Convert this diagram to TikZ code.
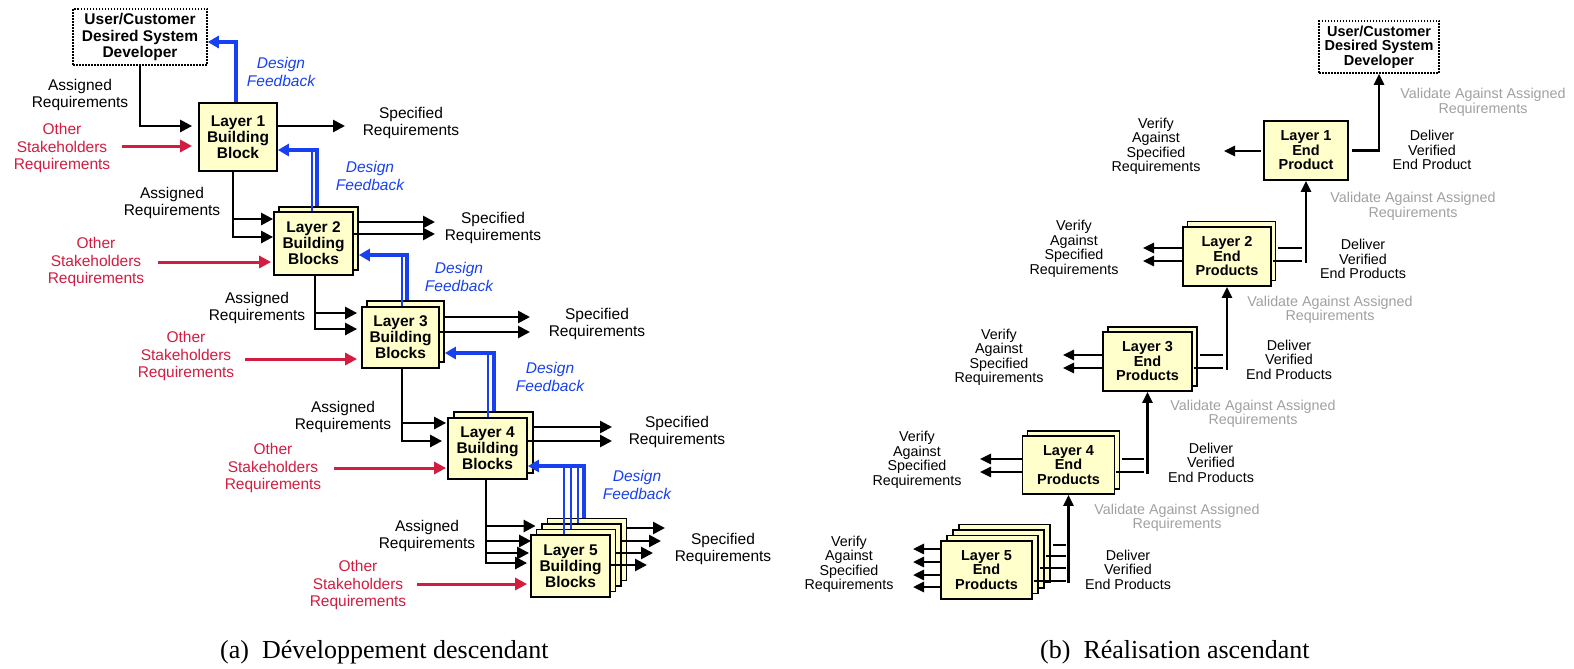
\documentclass[tikz,border=0pt]{standalone}
\usepackage{fontspec}
\setmainfont{Liberation Serif}
\setsansfont{Liberation Sans}
\usetikzlibrary{arrows.meta,calc}
\definecolor{boxfill}{HTML}{FFFFCC}
\definecolor{redc}{HTML}{D21C40}
\definecolor{bluec}{HTML}{1840F0}
\definecolor{grayc}{HTML}{A0A0A0}
\tikzset{
  box/.style={draw, line width=1.8pt, fill=boxfill, inner sep=0pt, align=center},
  lbox/.style={box, font=\sffamily\bfseries\fontsize{15.5}{16}\selectfont},
  rbox/.style={box, font=\sffamily\bfseries\fontsize{14.5}{14.5}\selectfont},
  userbox/.style={draw, line width=1.5pt, dash pattern=on 1.5pt off 1.5pt, fill=white, inner sep=0pt, align=center},
  txt/.style={font=\sffamily\fontsize{15.5}{17.5}\selectfont, align=center, inner sep=0pt},
  rtxt/.style={font=\sffamily\fontsize{14.3}{14.5}\selectfont, align=center, inner sep=0pt},
  redtxt/.style={txt, text=redc},
  fbtxt/.style={font=\sffamily\itshape\fontsize{15.5}{18.5}\selectfont, text=bluec, align=center, inner sep=0pt},
  gtxt/.style={rtxt, text=grayc},
  captxt/.style={font=\rmfamily\fontsize{26}{30}\selectfont, inner sep=0pt},
  arr/.style={line width=2.6pt, -{Triangle[length=12pt,width=12pt]}},
  rarr/.style={line width=2.5pt, -{Triangle[length=11pt,width=10pt]}},
  bline/.style={line width=2.5pt},
  redarr/.style={line width=3pt, draw=redc, -{Triangle[length=12pt,width=12pt]}},
  fb/.style={line width=3.3pt, draw=bluec, -{Triangle[length=11pt,width=12pt]}},
  fbl/.style={line width=2.8pt, draw=bluec}
}
\begin{document}
\begin{tikzpicture}[x=1pt,y=-1pt]
\useasboundingbox (0,0) rectangle (1574,669);

% ================= LEFT: top-down development =================
\node[userbox, minimum width=134pt, minimum height=56pt, font=\sffamily\bfseries\fontsize{15.5}{16.5}\selectfont] (UL) at (140,37) {User/Customer\\Desired System\\Developer};

\node[lbox, minimum width=78pt, minimum height=68pt] (L1) at (238,137) {Layer 1\\Building\\Block};

\node[lbox, minimum width=79pt, minimum height=63pt] (L2b) at (318.5,238.5) {};
\node[lbox, minimum width=79pt, minimum height=63pt] (L2) at (313.5,243.5) {Layer 2\\Building\\Blocks};

\node[lbox, minimum width=77pt, minimum height=61pt] (L3b) at (405.5,331.5) {};
\node[lbox, minimum width=77pt, minimum height=61pt] (L3) at (400.5,337.5) {Layer 3\\Building\\Blocks};

\node[lbox, minimum width=79pt, minimum height=61pt] (L4b) at (493.5,442.5) {};
\node[lbox, minimum width=79pt, minimum height=61pt] (L4) at (487.5,448.5) {Layer 4\\Building\\Blocks};

\node[lbox, minimum width=79pt, minimum height=62pt] (L5b3) at (587,549.5) {};
\node[lbox, minimum width=79pt, minimum height=62pt] (L5b2) at (581.5,555) {};
\node[lbox, minimum width=79pt, minimum height=62pt] (L5b1) at (576,560.5) {};
\node[lbox, minimum width=79pt, minimum height=62pt] (L5) at (570.5,566) {Layer 5\\Building\\Blocks};

% Layer 1 connectors
\draw[arr, shorten >=6pt] (UL.south) |- (L1.west |- 0,126);
\coordinate (r1) at (122,146);
\draw[redarr, shorten >=6pt] (r1) -- (r1 -| L1.west);
\coordinate (s1) at (345,126);
\draw[arr] (s1 -| L1.east) -- (s1);
\coordinate (f1) at (236,42);
\draw[fb] (f1 |- L1.north) -- (f1) -- (f1 -| UL.east);
\node[txt] (tA1) at (80,95) {Assigned\\Requirements};
\node[redtxt] (tO1) at (62,148) {Other\\Stakeholders\\Requirements};
\node[txt] (tS1) at (411,123) {Specified\\Requirements};
\node[fbtxt] (tF1) at (281,72) {Design\\Feedback};

% Layer 2 connectors
\coordinate (a2) at (233,219);
\draw[arr] (a2 |- L1.south) |- (L2.west |- 0,237);
\draw[arr] (a2) -- (a2 -| L2.west);
\coordinate (r2) at (158,262);
\draw[redarr, shorten >=2pt] (r2) -- (r2 -| L2.west);
\coordinate (s2a) at (435,222);
\coordinate (s2b) at (435,234);
\draw[arr] (s2a -| L2b.east) -- (s2a);
\draw[arr] (s2b -| L2.east) -- (s2b);
\coordinate (f2a) at (312,150);
\coordinate (f2b) at (317,150);
\draw[fbl] (f2a |- L2.north) -- (f2a);
\draw[fb] (f2b |- L2b.north) -- (f2b) -- (f2b -| L1.east);
\node[txt] (tA2) at (172,203) {Assigned\\Requirements};
\node[redtxt] (tO2) at (96,262) {Other\\Stakeholders\\Requirements};
\node[txt] (tS2) at (493,228) {Specified\\Requirements};
\node[fbtxt] (tF2) at (370,176) {Design\\Feedback};

% Layer 3 connectors
\coordinate (a3) at (315,313);
\draw[arr, shorten >=4pt] (a3 |- L2.south) |- (L3.west |- 0,329);
\draw[arr, shorten >=4pt] (a3) -- (a3 -| L3.west);
\coordinate (r3) at (245,359);
\draw[redarr, shorten >=4pt] (r3) -- (r3 -| L3.west);
\coordinate (s3a) at (530,317);
\coordinate (s3b) at (530,332);
\draw[arr] (s3a -| L3b.east) -- (s3a);
\draw[arr] (s3b -| L3.east) -- (s3b);
\coordinate (f3a) at (402,255);
\coordinate (f3b) at (407,255);
\draw[fbl] (f3a |- L3.north) -- (f3a);
\draw[fb] (f3b |- L3b.north) -- (f3b) -- (f3b -| L2b.east);
\node[txt] (tA3) at (257,308) {Assigned\\Requirements};
\node[redtxt] (tO3) at (186,356) {Other\\Stakeholders\\Requirements};
\node[txt] (tS3) at (597,324) {Specified\\Requirements};
\node[fbtxt] (tF3) at (459,277) {Design\\Feedback};

% Layer 4 connectors
\coordinate (a4) at (402,423);
\draw[arr, shorten >=5pt] (a4 |- L3.south) |- (L4.west |- 0,441);
\draw[arr, shorten >=1pt] (a4) -- (a4 -| L4.west);
\coordinate (r4) at (334,468);
\draw[redarr, shorten >=1pt] (r4) -- (r4 -| L4.west);
\coordinate (s4a) at (612,427);
\coordinate (s4b) at (612,441);
\draw[arr] (s4a -| L4b.east) -- (s4a);
\draw[arr] (s4b -| L4.east) -- (s4b);
\coordinate (f4a) at (488,353);
\coordinate (f4b) at (494,353);
\draw[fbl] (f4a |- L4.north) -- (f4a);
\draw[fb] (f4b |- L4b.north) -- (f4b) -- (f4b -| L3b.east);
\node[txt] (tA4) at (343,417) {Assigned\\Requirements};
\node[redtxt] (tO4) at (273,468) {Other\\Stakeholders\\Requirements};
\node[txt] (tS4) at (677,432) {Specified\\Requirements};
\node[fbtxt] (tF4) at (550,377) {Design\\Feedback};

% Layer 5 connectors
\coordinate (a5) at (486,526);
\draw[arr, shorten >=3pt] (a5 |- L4.south) |- (L5.west |- 0,563);
\draw[arr] (a5) -- (a5 -| L5b1.west);
\draw[arr, shorten >=-1pt] (a5 |- 0,541) -- (L5.west |- 0,541);
\draw[arr, shorten >=1pt] (a5 |- 0,553) -- (L5.west |- 0,553);
\coordinate (r5) at (417,584);
\draw[redarr, shorten >=3pt] (r5) -- (r5 -| L5.west);
\coordinate (s5a) at (665,528);
\coordinate (s5b) at (661,541);
\coordinate (s5c) at (653,553);
\coordinate (s5d) at (647,565);
\draw[arr] (s5a -| L5b3.east) -- (s5a);
\draw[arr] (s5b -| L5b2.east) -- (s5b);
\draw[arr] (s5c -| L5b1.east) -- (s5c);
\draw[arr] (s5d -| L5.east) -- (s5d);
\coordinate (f5a) at (564,466);
\coordinate (f5b) at (571,466);
\coordinate (f5c) at (578,466);
\coordinate (f5d) at (584,466);
\draw[fbl] (f5a |- L5.north) -- (f5a);
\draw[fbl] (f5b |- L5b1.north) -- (f5b);
\draw[fbl] (f5c |- L5b2.north) -- (f5c);
\draw[fb] (f5d |- L5b3.north) -- (f5d) -- (f5d -| L4.east);
\node[txt] (tA5) at (427,536) {Assigned\\Requirements};
\node[redtxt] (tO5) at (358,585) {Other\\Stakeholders\\Requirements};
\node[txt] (tS5) at (723,549) {Specified\\Requirements};
\node[fbtxt] (tF5) at (637,485) {Design\\Feedback};

% ================= RIGHT: bottom-up realization =================
\node[userbox, minimum width=120pt, minimum height=52pt, font=\sffamily\bfseries\fontsize{14.5}{14.5}\selectfont] (RU) at (1379,47) {User/Customer\\Desired System\\Developer};

\node[rbox, minimum width=84pt, minimum height=59pt] (R1) at (1306,150.5) {Layer 1\\End\\Product};

\node[rbox, minimum width=88pt, minimum height=59pt] (R2b) at (1231.5,251) {};
\node[rbox, minimum width=88pt, minimum height=59pt] (R2) at (1227,256.5) {Layer 2\\End\\Products};

\node[rbox, minimum width=89pt, minimum height=59pt] (R3b) at (1152.5,356.5) {};
\node[rbox, minimum width=89pt, minimum height=59pt] (R3) at (1147.5,361.5) {Layer 3\\End\\Products};

\node[rbox, minimum width=92pt, minimum height=58pt] (R4b) at (1073.5,460) {};
\node[rbox, minimum width=92pt, minimum height=58pt] (R4) at (1068.5,465) {Layer 4\\End\\Products};

\node[rbox, minimum width=91pt, minimum height=58pt] (R5b3) at (1004.5,553.5) {};
\node[rbox, minimum width=91pt, minimum height=58pt] (R5b2) at (998.5,559) {};
\node[rbox, minimum width=91pt, minimum height=58pt] (R5b1) at (992.5,564.5) {};
\node[rbox, minimum width=91pt, minimum height=58pt] (R5) at (986.5,570) {Layer 5\\End\\Products};

% Layer 1 (right)
\coordinate (v1) at (1224,151);
\draw[rarr, shorten <=2pt] (v1 -| R1.west) -- (v1);
\draw[rarr, shorten <=3pt] (R1.east) -| (RU.south);
\node[rtxt] (tV1) at (1156,146.5) {Verify\\Against\\Specified\\Requirements};
\node[rtxt] (tD1) at (1432,150) {Deliver\\Verified\\End Product};
\node[gtxt] (tG1) at (1483,102.5) {Validate Against Assigned\\Requirements};

% Layer 2 (right)
\coordinate (v2a) at (1143,248);
\coordinate (v2b) at (1143,261);
\draw[rarr] (v2a -| R2.west) -- (v2a);
\draw[rarr] (v2b -| R2.west) -- (v2b);
\draw[bline, shorten <=2pt, shorten >=4pt] (R2b.east |- v2a) -- (R1.south |- v2a);
\draw[bline, shorten <=1pt, shorten >=4pt] (R2.east |- v2b) -- (R1.south |- v2b);
\draw[rarr] (R1.south |- 0,262.5) -- (R1.south);
\node[rtxt] (tV2) at (1074,249) {Verify\\Against\\Specified\\Requirements};
\node[rtxt] (tD2) at (1363,259) {Deliver\\Verified\\End Products};
\node[gtxt] (tG2) at (1413,206.5) {Validate Against Assigned\\Requirements};

% Layer 3 (right)
\coordinate (v3a) at (1063,355);
\coordinate (v3b) at (1063,368);
\draw[rarr] (v3a -| R3.west) -- (v3a);
\draw[rarr] (v3b -| R3.west) -- (v3b);
\draw[bline, shorten <=2pt, shorten >=4pt] (R3b.east |- v3a) -- (R2.south |- v3a);
\draw[bline, shorten <=1pt, shorten >=4pt] (R3.east |- v3b) -- (R2.south |- v3b);
\draw[rarr] (R2.south |- 0,369.5) -- (R2.south);
\node[rtxt] (tV3) at (999,357.5) {Verify\\Against\\Specified\\Requirements};
\node[rtxt] (tD3) at (1289,359.5) {Deliver\\Verified\\End Products};
\node[gtxt] (tG3) at (1330,310) {Validate Against Assigned\\Requirements};

% Layer 4 (right)
\coordinate (v4a) at (980,459);
\coordinate (v4b) at (980,472);
\draw[rarr] (v4a -| R4.west) -- (v4a);
\draw[rarr] (v4b -| R4.west) -- (v4b);
\draw[bline, shorten <=2pt, shorten >=4pt] (R4b.east |- v4a) -- (R3.south |- v4a);
\draw[bline, shorten <=1pt, shorten >=4pt] (R4.east |- v4b) -- (R3.south |- v4b);
\draw[rarr] (R3.south |- 0,473.5) -- (R3.south);
\node[rtxt] (tV4) at (917,460) {Verify\\Against\\Specified\\Requirements};
\node[rtxt] (tD4) at (1211,462.5) {Deliver\\Verified\\End Products};
\node[gtxt] (tG4) at (1253,414) {Validate Against Assigned\\Requirements};

% Layer 5 (right)
\coordinate (v5a) at (913,549);
\coordinate (v5b) at (913,562);
\coordinate (v5c) at (913,575);
\coordinate (v5d) at (913,587);
\draw[rarr] (v5a -| R5.west) -- (v5a);
\draw[rarr] (v5b -| R5.west) -- (v5b);
\draw[rarr] (v5c -| R5.west) -- (v5c);
\draw[rarr] (v5d -| R5.west) -- (v5d);
\coordinate (d5a) at (0,545);
\coordinate (d5b) at (0,556);
\coordinate (d5c) at (0,568);
\coordinate (d5d) at (0,581);
\draw[bline, shorten <=2pt, shorten >=3pt] (R5b3.east |- d5a) -- (R4.south |- d5a);
\draw[bline, shorten <=1pt, shorten >=3pt] (R5b2.east |- d5b) -- (R4.south |- d5b);
\draw[bline, shorten <=1pt, shorten >=3pt] (R5b1.east |- d5c) -- (R4.south |- d5c);
\draw[bline, shorten <=1pt, shorten >=3pt] (R5.east |- d5d) -- (R4.south |- d5d);
\draw[rarr] (R4.south |- 0,582.5) -- (R4.south);
\node[rtxt] (tV5) at (849,564.5) {Verify\\Against\\Specified\\Requirements};
\node[rtxt] (tD5) at (1128,569.5) {Deliver\\Verified\\End Products};
\node[gtxt] (tG5) at (1177,518) {Validate Against Assigned\\Requirements};

% ================= captions =================
\node[captxt, anchor=base west] (capa) at (220,658) {(a)\hspace{13pt}Développement descendant};
\node[captxt, anchor=base west] (capb) at (1040,658) {(b)\hspace{13pt}Réalisation ascendant};
\end{tikzpicture}
\end{document}
